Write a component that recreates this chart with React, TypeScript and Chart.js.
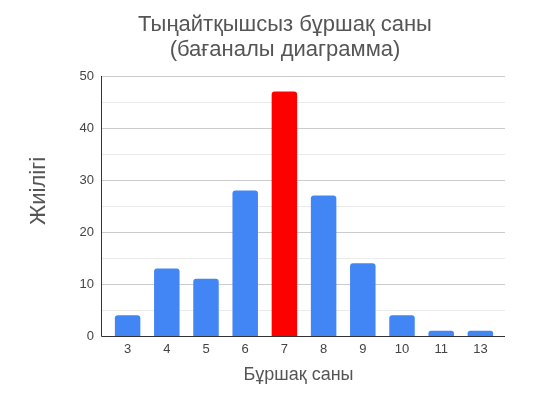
import React, { useEffect, useRef } from 'react';
import { Chart, registerables } from 'chart.js';

Chart.register(...registerables);

const categories = ['3', '4', '5', '6', '7', '8', '9', '10', '11', '13'];
const frequencies = [4, 13, 11, 28, 47, 27, 14, 4, 1, 1];
const highlightCategory = '7';
const titleLines = ['Тыңайтқышсыз бұршақ саны', '(бағаналы диаграмма)'];
const xAxisTitle = 'Бұршақ саны';
const yAxisTitle = 'Жиілігі';
const yMin = 0;
const yMax = 50;
const yLabelStep = 10;
const yGridStep = 5;

const FONT = "Arial, 'Liberation Sans', sans-serif";
const BLUE = '#4285F4';
const RED = '#FF0000';

const decorPlugin = {
  id: 'decor',
  beforeDatasetsDraw(chart: any) {
    const { ctx, chartArea } = chart;
    const y = chart.scales.y;
    const x0 = chartArea.left - 7;
    const x1 = chartArea.right + 5;
    ctx.save();
    ctx.lineWidth = 1;
    for (let v = yMin + yGridStep; v <= yMax; v += yGridStep) {
      const py = Math.round(y.getPixelForValue(v)) + 0.5;
      ctx.strokeStyle = v % yLabelStep === 0 ? '#cccccc' : '#ebebeb';
      ctx.beginPath();
      ctx.moveTo(x0, py);
      ctx.lineTo(x1, py);
      ctx.stroke();
    }
    ctx.restore();
  },
  afterDatasetsDraw(chart: any) {
    const { ctx, chartArea } = chart;
    const y = chart.scales.y;
    const x0 = chartArea.left - 7;
    const x1 = chartArea.right + 5;
    const py0 = Math.round(y.getPixelForValue(yMin)) + 0.5;
    const pyTop = Math.round(y.getPixelForValue(yMax));
    ctx.save();
    ctx.strokeStyle = '#333333';
    ctx.lineWidth = 1;
    ctx.beginPath();
    ctx.moveTo(x0 + 0.5, pyTop);
    ctx.lineTo(x0 + 0.5, py0);
    ctx.lineTo(x1, py0);
    ctx.stroke();
    ctx.restore();
  },
  afterDraw(chart: any) {
    const { ctx } = chart;
    ctx.save();
    ctx.fillStyle = '#555555';
    ctx.textAlign = 'center';
    ctx.textBaseline = 'alphabetic';
    ctx.font = `22px ${FONT}`;
    ctx.fillText(titleLines[0], 285, 30.5);
    ctx.fillText(titleLines[1], 285, 56);
    ctx.font = `18px ${FONT}`;
    ctx.fillText(xAxisTitle, 298.5, 380);
    ctx.translate(45, 191);
    ctx.rotate(-Math.PI / 2);
    ctx.font = `22px ${FONT}`;
    ctx.fillText(yAxisTitle, 0, 0);
    ctx.restore();
  },
};

export default function App() {
  const canvasRef = useRef<HTMLCanvasElement | null>(null);

  useEffect(() => {
    const canvas = canvasRef.current;
    if (!canvas) return;
    const chart = new Chart(canvas, {
      type: 'bar',
      data: {
        labels: categories,
        datasets: [
          {
            data: frequencies,
            backgroundColor: categories.map((c) => (c === highlightCategory ? RED : BLUE)),
            borderRadius: 3,
            borderSkipped: 'bottom',
            barPercentage: 0.65,
            categoryPercentage: 1,
          },
        ],
      },
      options: {
        responsive: false,
        animation: false,
        layout: { padding: { top: 76, right: 35, bottom: 0, left: 0 } },
        plugins: {
          legend: { display: false },
          title: { display: false },
          tooltip: { enabled: false },
        },
        scales: {
          x: {
            grid: { display: false, drawTicks: false },
            border: { display: false },
            ticks: {
              color: '#444444',
              font: { family: FONT, size: 13 },
              padding: 6,
              maxRotation: 0,
              autoSkip: false,
            },
            afterFit(scale: any) {
              scale.height = 60;
            },
          },
          y: {
            min: yMin,
            max: yMax,
            grid: { display: false, drawTicks: false },
            border: { display: false },
            ticks: {
              stepSize: yLabelStep,
              color: '#444444',
              font: { family: FONT, size: 13 },
              padding: 14,
            },
            afterFit(scale: any) {
              scale.width = 108;
            },
          },
        },
      },
      plugins: [decorPlugin],
    });
    return () => chart.destroy();
  }, []);

  return (
    <div style={{ position: 'fixed', left: 0, top: 0, width: 535, height: 396, background: '#fff' }}>
      <canvas ref={canvasRef} width={535} height={396} style={{ display: 'block' }} />
    </div>
  );
}
